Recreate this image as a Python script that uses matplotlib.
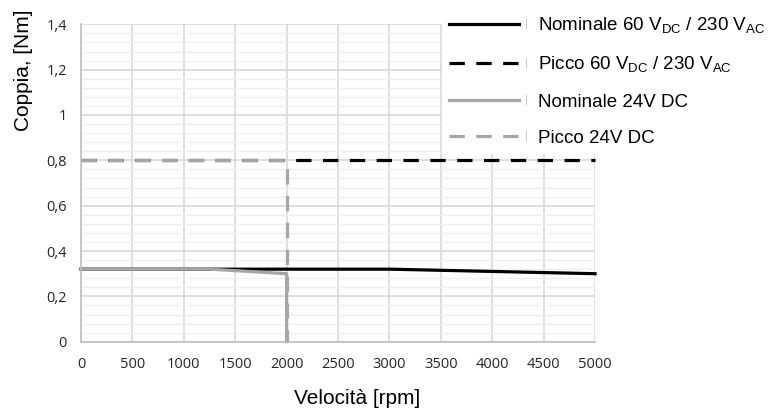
import numpy as np
import matplotlib
matplotlib.use("Agg")
import matplotlib.pyplot as plt
from matplotlib.ticker import MultipleLocator, FuncFormatter

# data
nom60_x = [0, 1000, 2000, 3000, 4000, 5000]
nom60_y = [0.32, 0.32, 0.32, 0.32, 0.31, 0.30]
pk60_x = [0, 1000, 2000, 3000, 4000, 5000]
pk60_y = [0.8, 0.8, 0.8, 0.8, 0.8, 0.8]
nom24_x = [0, 500, 1000, 1250, 2000, 2000]
nom24_y = [0.32, 0.32, 0.32, 0.32, 0.30, 0.0]
pk24_x = [0, 1000, 2000, 2000]
pk24_y = [0.8, 0.8, 0.8, 0.0]

labels = ['Nominale 60 V$_\\mathregular{DC}$ / 230 V$_\\mathregular{AC}$',
          'Picco 60 V$_\\mathregular{DC}$ / 230 V$_\\mathregular{AC}$',
          'Nominale 24V DC',
          'Picco 24V DC']

BLACK = '#000000'
GRAY = '#a6a6a6'

plt.rcParams['font.family'] = ['Liberation Sans', 'DejaVu Sans']

fig = plt.figure(figsize=(7.73, 4.12), dpi=100)
ax = fig.add_axes([0.1048, 0.1706, 0.665, 0.7704])

lw = 2.3
dash = (4.8, 3.6)
ax.plot(nom60_x, nom60_y, color=BLACK, lw=lw, label=labels[0], clip_on=False)
ax.plot(pk60_x, pk60_y, color=BLACK, lw=lw, ls=(0, dash), label=labels[1], clip_on=False)
ax.plot(nom24_x, nom24_y, color=GRAY, lw=lw, label=labels[2], clip_on=False)
ax.plot(pk24_x, pk24_y, color=GRAY, lw=lw, ls=(0, dash), label=labels[3], clip_on=False)

ax.set_xlim(0, 5000)
ax.set_ylim(0, 1.4)
ax.xaxis.set_major_locator(MultipleLocator(500))
ax.yaxis.set_major_locator(MultipleLocator(0.2))
ax.yaxis.set_minor_locator(MultipleLocator(0.04))
ax.yaxis.set_major_formatter(FuncFormatter(lambda v, p: ('%g' % round(v, 2)).replace('.', ',')))

ax.grid(which='major', color='#d9d9d9', lw=1.2)
ax.grid(which='minor', axis='y', color='#efefef', lw=1.0)
ax.set_axisbelow(True)

for s in ['top', 'right']:
    ax.spines[s].set_visible(False)
for s in ['left', 'bottom']:
    ax.spines[s].set_color('#bfbfbf')
    ax.spines[s].set_linewidth(1.2)

ax.tick_params(which='both', length=0)
ax.tick_params(axis='x', pad=11)
ax.tick_params(axis='y', pad=10)
for t in ax.get_xticklabels() + ax.get_yticklabels():
    t.set_fontfamily('Open Sans')
    t.set_fontsize(10.5)
    t.set_color('#262626')

ax.set_xlabel('Velocità [rpm]', fontsize=15)
ax.set_ylabel('Coppia, [Nm]', fontsize=15)
ax.xaxis.set_label_coords(0.537, -0.15)
ax.yaxis.set_label_coords(-0.093, 0.856)

leg = fig.legend(loc='upper left', bbox_to_anchor=(0.5715, 0.98),
                 fontsize=13.5, handlelength=3.7, handletextpad=1.05,
                 labelspacing=1.0, frameon=True, fancybox=False,
                 borderpad=0.4, borderaxespad=0)
leg.get_frame().set_facecolor('white')
leg.get_frame().set_edgecolor('none')
leg.get_frame().set_alpha(1)

# small separator ticks between legend keys and texts
fig.canvas.draw()
r = fig.canvas.get_renderer()
for h, t in zip(leg.legend_handles, leg.get_texts()):
    hb = h.get_window_extent(r)
    xm = hb.x1 + 8
    ym = (hb.y0 + hb.y1) / 2
    fig.text(xm / fig.bbox.width, ym / fig.bbox.height, '|', color='#bfbfbf',
             fontsize=8, ha='center', va='center', zorder=10)

fig.savefig('out.png', dpi=100)
